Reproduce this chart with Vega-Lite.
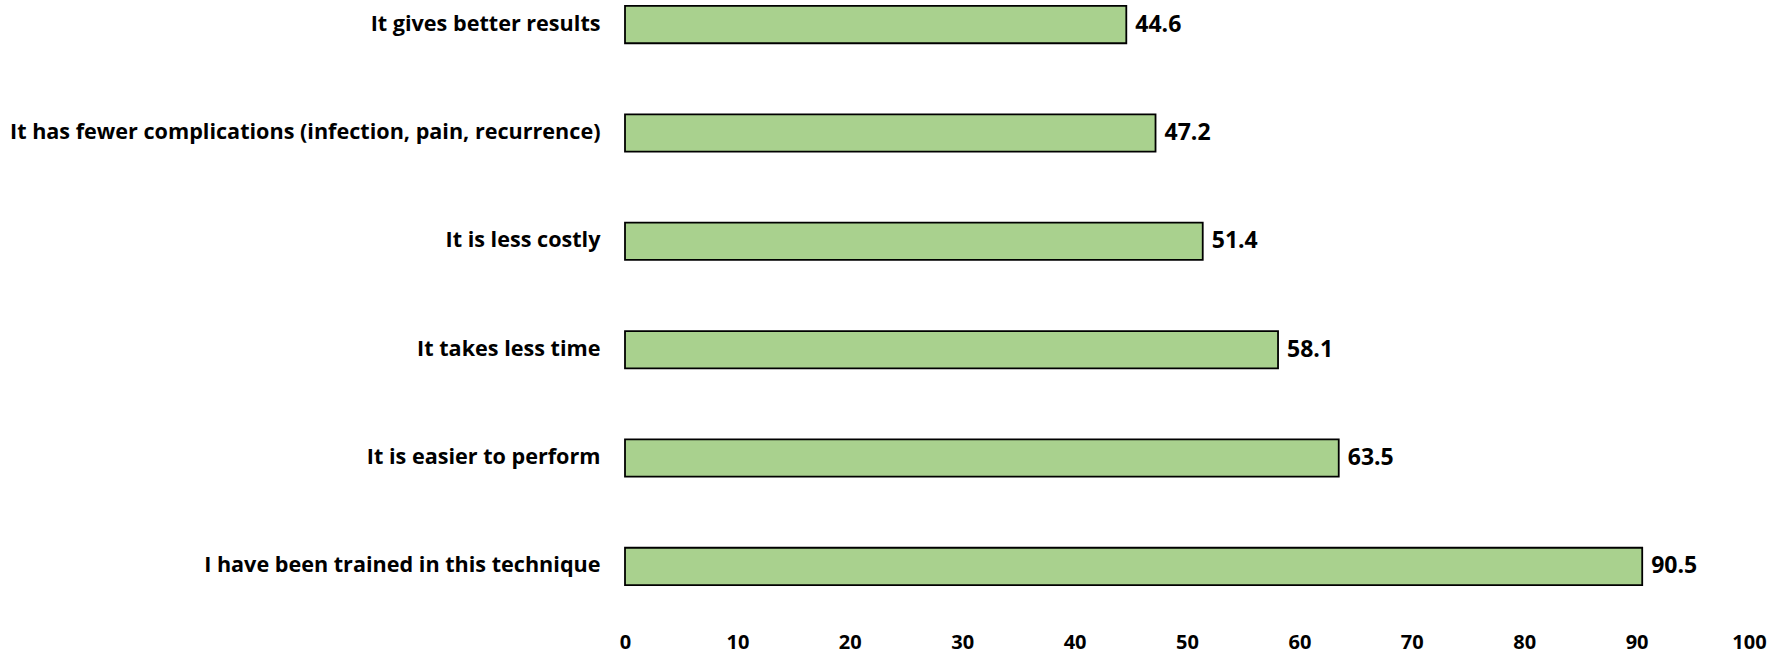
{
  "$schema": "https://vega.github.io/schema/vega-lite/v6.json",
  "autosize": "none",
  "width": 1124,
  "height": 591,
  "padding": {"left": 625, "top": 0, "right": 23, "bottom": 65},
  "background": "white",
  "config": {"view": {"stroke": null}, "font": "Open Sans"},
  "data": {"values": [
    {"reason": "It gives better results", "pct": 44.6},
    {"reason": "It has fewer complications (infection, pain, recurrence)", "pct": 47.2},
    {"reason": "It is less costly", "pct": 51.4},
    {"reason": "It takes less time", "pct": 58.1},
    {"reason": "It is easier to perform", "pct": 63.5},
    {"reason": "I have been trained in this technique", "pct": 90.5}
  ]},
  "encoding": {
    "y": {"field": "reason", "type": "nominal", "sort": null,
      "scale": {"paddingInner": 0.656, "paddingOuter": 0.055},
      "axis": {"title": null, "domain": false, "ticks": false, "labelPadding": 25, "labelFontSize": 21.6, "labelFont": "Open Sans", "labelFontWeight": "bold", "labelColor": "black", "labelLimit": 700}},
    "x": {"field": "pct", "type": "quantitative",
      "scale": {"domain": [0, 100], "nice": false},
      "axis": {"title": null, "domain": false, "ticks": false, "grid": false, "values": [0,10,20,30,40,50,60,70,80,90,100], "labelPadding": 41, "labelFontSize": 20, "labelFont": "Open Sans", "labelFontWeight": "bold", "labelColor": "black", "labelFlush": false}}
  },
  "layer": [
    {"mark": {"type": "bar", "color": "#A9D18E", "stroke": "black", "strokeWidth": 1.8}},
    {"mark": {"type": "text", "align": "left", "dx": 9, "fontSize": 23, "font": "Open Sans", "fontWeight": "bold", "color": "black"},
     "encoding": {"text": {"field": "pct", "type": "quantitative", "format": ".1f"}}}
  ]
}
